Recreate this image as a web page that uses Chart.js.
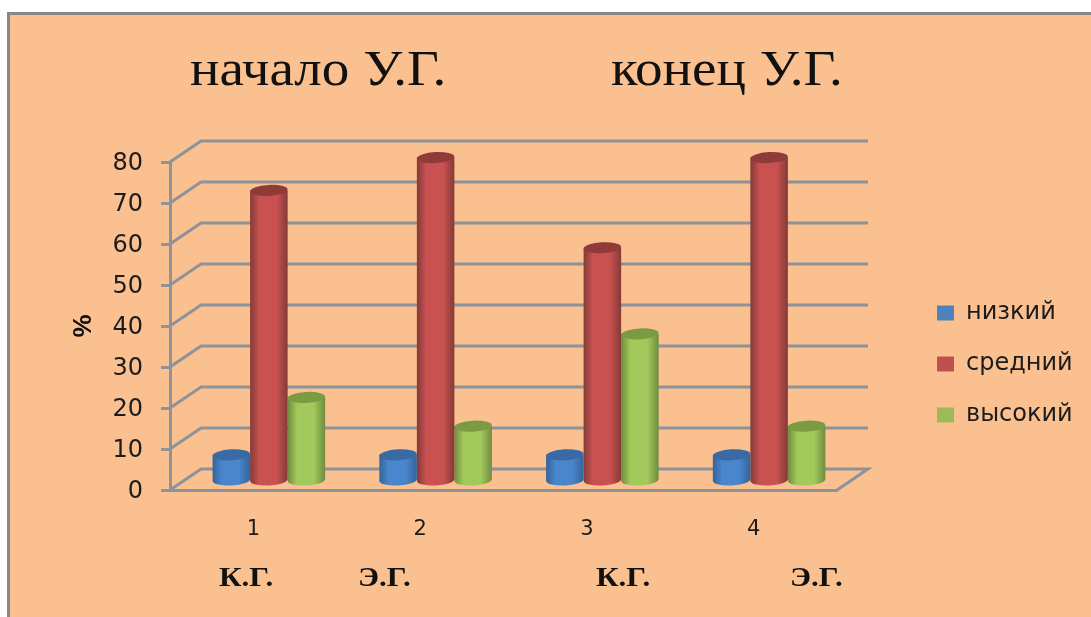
<!DOCTYPE html>
<html>
<head>
<meta charset="utf-8">
<title>chart</title>
<script src="https://cdn.jsdelivr.net/npm/chart.js@4"></script>
<style>
    html, body { margin: 0; padding: 0; background: #fff; }
    canvas { display: block; }
</style>
</head>
<body>
<canvas id="myChart" width="1091" height="617"></canvas>
<script>
var categories = ['1', '2', '3', '4'];
var nizkiy = [6.5, 6.5, 6.5, 6.5];
var sredniy = [71, 79, 57, 79];
var vysokiy = [20.5, 13.5, 36, 13.5];
var yTicks = [0, 10, 20, 30, 40, 50, 60, 70, 80];
var headings = ['начало У.Г.', 'конец У.Г.'];
var groupNames = ['К.Г.', 'Э.Г.', 'К.Г.', 'Э.Г.'];

// shades of the cylinders: edge, middle, top cap
var shades = [
    ['#33649c', '#4a86cc', '#3a6aa3'],
    ['#843a38', '#c95251', '#8f3b3a'],
    ['#708c3e', '#a2c95b', '#7b9b42']
];
var gridColor = '#8d9399';
var textColor = '#1c1c1c';
var depthX = 31, depthY = 21;

var background = {
    id: 'background',
    beforeDraw: function (chart) {
        var c = chart.ctx;
        c.save();
        c.fillStyle = '#fff';
        c.fillRect(0, 0, chart.width, chart.height);
        c.fillStyle = '#878787';
        c.fillRect(7, 12, chart.width - 7, chart.height - 12);
        c.fillStyle = '#fbc08f';
        c.fillRect(10, 15, chart.width - 10, chart.height - 15);
        c.restore();
    }
};

// back wall and floor, taken from the y scale
var walls = {
    id: 'walls',
    beforeDatasetsDraw: function (chart) {
        var c = chart.ctx, y = chart.scales.y, a = chart.chartArea;
        c.save();
        c.strokeStyle = gridColor;
        c.lineWidth = 3;
        yTicks.forEach(function (t) {
            var py = y.getPixelForValue(t);
            c.beginPath();
            c.moveTo(a.left, py);
            c.lineTo(a.left + depthX, py - depthY);
            c.lineTo(a.right + depthX, py - depthY);
            if (t === 0) c.lineTo(a.right, py);
            c.stroke();
        });
        c.restore();
    }
};

function cylinder(c, el, s) {
    // elements stand in the middle of the floor depth
    var off = depthX / 2, lift = 8.5, tilt = -0.05;
    var left = el.x - el.width / 2 + off, right = el.x + el.width / 2 + off;
    var cx = el.x + off, top = el.y - lift, bot = el.base - lift;
    var rx = el.width / 2, ry = 5.5;
    var g = c.createLinearGradient(left, 0, right, 0);
    g.addColorStop(0, s[0]);
    g.addColorStop(0.25, s[1]);
    g.addColorStop(0.7, s[1]);
    g.addColorStop(1, s[0]);
    c.fillStyle = g;
    c.beginPath();
    c.moveTo(left, top);
    c.lineTo(left, bot);
    c.ellipse(cx, bot, rx, ry, tilt, Math.PI, 0, true);
    c.lineTo(right, top);
    c.closePath();
    c.fill();
    c.fillStyle = s[2];
    c.beginPath();
    c.ellipse(cx, top, rx, ry, tilt, 0, Math.PI * 2);
    c.fill();
}

var cylinders = {
    id: 'cylinders',
    beforeDatasetDraw: function (chart, args) {
        var c = chart.ctx;
        c.save();
        args.meta.data.forEach(function (el) {
            cylinder(c, el, shades[args.index]);
        });
        c.restore();
        return false;
    }
};

function wideText(c, text, x, y, stretch) {
    c.save();
    c.translate(x, y);
    c.scale(stretch, 1);
    c.fillText(text, 0, 0);
    c.restore();
}

var headingsPlugin = {
    id: 'headingsPlugin',
    afterDraw: function (chart) {
        var c = chart.ctx;
        c.save();
        c.fillStyle = '#111';
        c.textBaseline = 'alphabetic';
        c.font = '51px "Liberation Serif"';
        wideText(c, headings[0], 190, 85, 1.08);
        wideText(c, headings[1], 611, 85, 1.08);
        c.font = 'bold 28px "Liberation Serif"';
        [219, 358, 596, 790].forEach(function (px, i) {
            wideText(c, groupNames[i], px, 586, 1.11);
        });
        c.restore();
    }
};

// the legend floats beside the plot, so it is placed by hand after layout
var moveLegend = {
    id: 'moveLegend',
    afterLayout: function (chart) {
        var l = chart.legend;
        l.left = 910;
        l.right = 1091;
        l.top = 100;
        l.bottom = 628;
    }
};

var ctx = document.getElementById('myChart').getContext('2d');
var myChart = new Chart(ctx, {
    type: 'bar',
    data: {
        labels: categories,
        datasets: [
            { label: 'низкий', data: nizkiy, backgroundColor: '#4f81bd' },
            { label: 'средний', data: sredniy, backgroundColor: '#c0504d' },
            { label: 'высокий', data: vysokiy, backgroundColor: '#9bbb59' }
        ]
    },
    plugins: [background, walls, cylinders, headingsPlugin, moveLegend],
    options: {
        responsive: false,
        animation: false,
        devicePixelRatio: 1,
        layout: { padding: { left: 60, top: 162, right: 254, bottom: 0 } },
        datasets: { bar: { categoryPercentage: 0.675, barPercentage: 1 } },
        plugins: {
            title: { display: false },
            tooltip: { enabled: false },
            legend: {
                position: 'chartArea',
                align: 'center',
                labels: {
                    boxWidth: 17,
                    boxHeight: 15,
                    padding: 27,
                    color: textColor,
                    font: { family: '"DejaVu Sans"', size: 24 }
                }
            }
        },
        scales: {
            x: {
                afterFit: function (s) { s.height = 127; },
                grid: { display: false },
                border: { display: true, color: gridColor, width: 3 },
                ticks: {
                    color: textColor,
                    padding: 19,
                    maxRotation: 0,
                    font: { family: '"DejaVu Sans"', size: 21 }
                }
            },
            y: {
                min: 0,
                max: 80,
                afterFit: function (s) { s.width = 110; },
                grid: { drawOnChartArea: false, color: gridColor, lineWidth: 3, tickLength: 9 },
                border: { display: true, color: gridColor, width: 3 },
                title: {
                    display: true,
                    text: '%',
                    color: '#111',
                    padding: { top: 8, bottom: 0 },
                    font: { family: '"Liberation Sans"', size: 26, weight: 'bold' }
                },
                ticks: {
                    stepSize: 10,
                    color: textColor,
                    padding: 18,
                    labelOffset: 2,
                    font: { family: '"DejaVu Sans"', size: 24 }
                }
            }
        }
    }
});
</script>
</body>
</html>
